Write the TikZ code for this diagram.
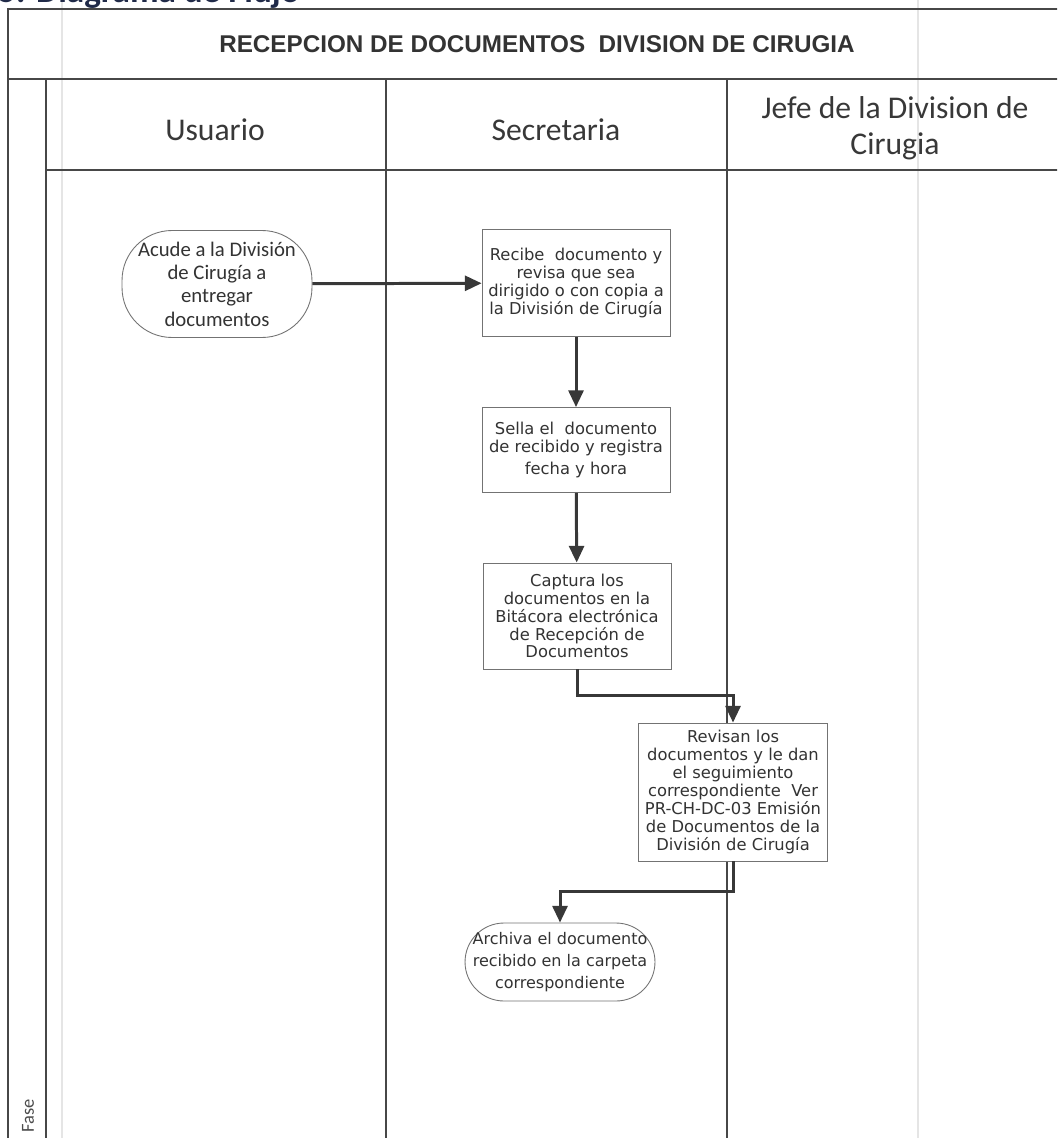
\documentclass[tikz,border=0pt]{standalone}
\usepackage{fontspec}
\setmainfont{Carlito}
\newfontfamily\verdfont{DejaVu Sans}
\newfontfamily\arialfont{Liberation Sans}
\usetikzlibrary{arrows.meta}
\definecolor{headnavy}{RGB}{32,42,72}

\begin{document}
\begin{tikzpicture}[x=0.02cm,y=-0.02cm,
  frame/.style={draw=black!72,line width=0.8pt},
  scanline/.style={draw=black!10,line width=0.6pt},
  lanehead/.style={text=black!78,align=center,font=\fontsize{18}{20.5}\selectfont},
  actbox/.style={draw=black!55,line width=0.5pt,fill=white,text=black!80,align=center,
    font=\verdfont\fontsize{9.3}{10.2}\selectfont,inner sep=1pt,minimum width=3.76cm},
  endbox/.style={actbox,rounded corners=0.78cm,minimum width=3.8cm},
  flow/.style={draw=black!78,line width=1.7pt,-{Triangle[length=9.5pt,width=8.5pt]}}]
  \useasboundingbox (0,0) rectangle (1057,1138);
  \clip (0,0) rectangle (1057,1138);
  % scanner marks
  \draw[scanline] (62,0) -- (62,1138);
  \draw[scanline] (918,0) -- (918,1138);
  % page heading, cut at the top
  \node[anchor=base west,inner sep=0pt,text=headnavy,font=\bfseries\fontsize{20}{24}\selectfont] (heading) at (-2,3) {5. Diagrama de Flujo};
  % frame and lanes
  \draw[frame] (1060,9) -- (8,9) -- (8,1140);
  \draw[frame] (8,79) -- (1060,79);
  \draw[frame] (46,79) -- (46,1140);
  \draw[frame] (46,170) -- (1060,170);
  \draw[frame] (386,79) -- (386,1140);
  \draw[frame] (727,79) -- (727,1140);
  \node[text=black!80,font=\arialfont\bfseries\fontsize{13.8}{16}\selectfont] (title) at (537,44) {RECEPCION DE DOCUMENTOS\ \ DIVISION DE CIRUGIA};
  \node[lanehead] (usuario) at (215,130) {Usuario};
  \node[lanehead] (secretaria) at (556,130) {Secretaria};
  \node[lanehead] (jefe) at (895,128) {Jefe de la Division de\\Cirugia};
  \node[rotate=90,text=black!70,font=\fontsize{10.5}{12}\selectfont] (fase) at (28,1116) {Fase};

  % activities
  \node[endbox,minimum height=2.14cm,rounded corners=1cm,font=\fontsize{11.8}{13.3}\selectfont] (acude) at (217,284)
    {Acude a la División\\de Cirugía a\\entregar\\documentos};
  \node[actbox,minimum height=2.14cm] (recibe) at (576,283)
    {Recibe\ \ documento y\\revisa que sea\\dirigido o con copia a\\la División de Cirugía};
  \node[actbox,minimum height=1.7cm] (sella) at (576,450)
    {Sella el\ \ documento\\de recibido y registra\\[2pt]fecha y hora};
  \node[actbox,minimum height=2.12cm] (captura) at (577,616)
    {Captura los\\documentos en la\\Bitácora electrónica\\de Recepción de\\Documentos};
  \node[actbox,minimum height=2.76cm,minimum width=3.78cm] (revisan) at (733,792)
    {Revisan los\\documentos y le dan\\el seguimiento\\correspondiente\ \ Ver\\PR-CH-DC-03 Emisión\\de Documentos de la\\División de Cirugía};
  \node[endbox,minimum height=1.56cm,font=\verdfont\fontsize{9.1}{12.4}\selectfont] (archiva) at (560,962)
    {Archiva el documento\\recibido en la carpeta\\correspondiente};

  % connectors
  \draw[flow] (acude) -- (recibe);
  \draw[flow] (recibe) -- (sella);
  \draw[flow] (sella) -- (captura);
  \draw[flow] (captura.south) -- ++(0,26) -| (revisan.north);
  \draw[flow] (revisan.south) -- ++(0,30) -| (archiva.north);
\end{tikzpicture}
\end{document}
